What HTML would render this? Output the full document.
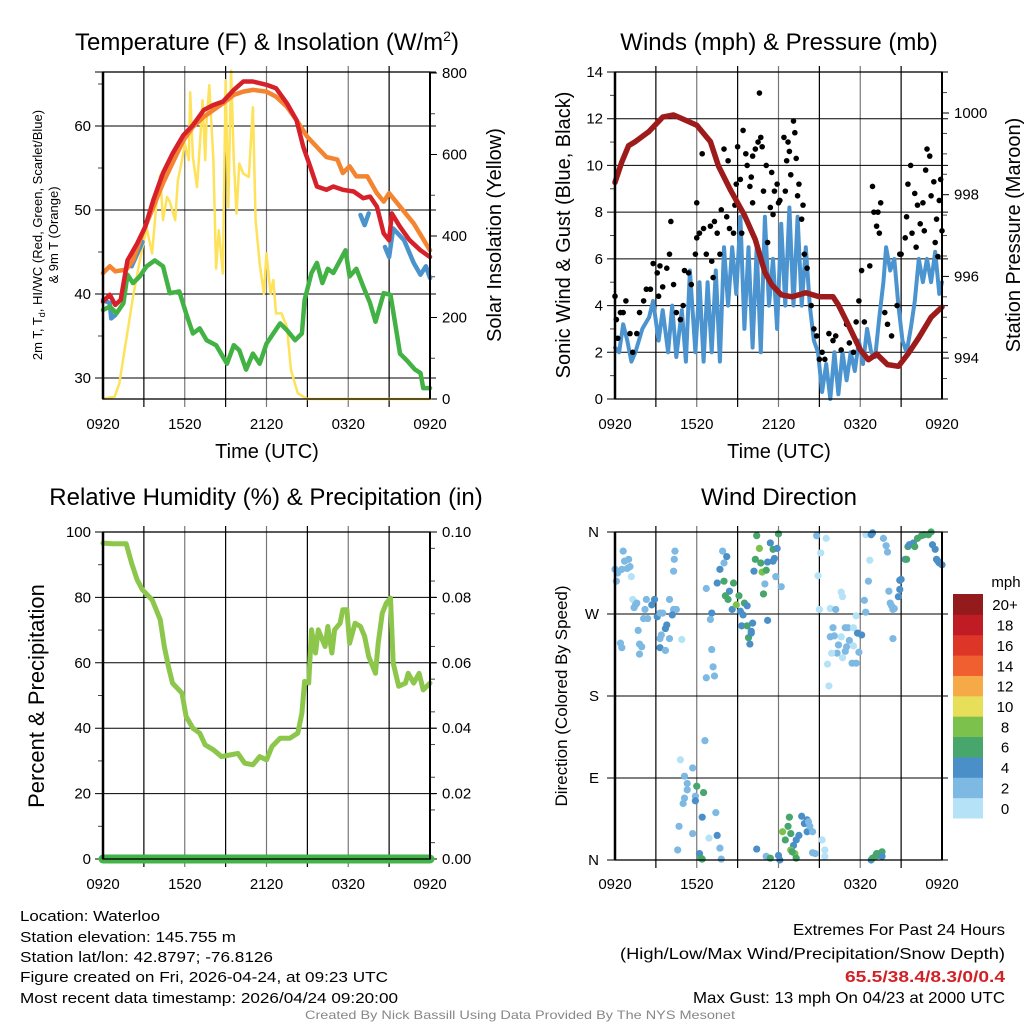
<!DOCTYPE html>
<html><head><meta charset="utf-8"><style>
html,body{margin:0;padding:0;background:#fff;}
svg{display:block;font-family:"Liberation Sans",sans-serif;}
</style></head><body>
<svg id="c" width="1024" height="1024" viewBox="0 0 1024 1024" xmlns="http://www.w3.org/2000/svg">
<rect width="1024" height="1024" fill="#fff"/>
<text x="267" y="50" font-size="24" text-anchor="middle">Temperature (F) &amp; Insolation (W/m<tspan dy="-9" font-size="14">2</tspan><tspan dy="9">)</tspan></text>
<text x="779" y="50" font-size="24" text-anchor="middle">Winds (mph) &amp; Pressure (mb)</text>
<text x="266" y="505" font-size="24" text-anchor="middle">Relative Humidity (%) &amp; Precipitation (in)</text>
<text x="779" y="505" font-size="24" text-anchor="middle">Wind Direction</text>
<text x="267" y="458" font-size="20" text-anchor="middle">Time (UTC)</text>
<text x="779" y="458" font-size="20" text-anchor="middle">Time (UTC)</text>
<text transform="translate(42,235) rotate(-90)" font-size="13" text-anchor="middle">2m T, T<tspan dy="3" font-size="9">d</tspan><tspan dy="-3">, HI/WC (Red, Green, Scarlet/Blue)</tspan></text>
<text transform="translate(58,235) rotate(-90)" font-size="13" text-anchor="middle">&amp; 9m T (Orange)</text>
<text transform="translate(501,235) rotate(-90)" font-size="20" text-anchor="middle">Solar Insolation (Yellow)</text>
<text transform="translate(570,235) rotate(-90)" font-size="20" text-anchor="middle">Sonic Wind &amp; Gust (Blue, Black)</text>
<text transform="translate(1020,235) rotate(-90)" font-size="20" text-anchor="middle">Station Pressure (Maroon)</text>
<text transform="translate(44,696) rotate(-90)" font-size="22" text-anchor="middle">Percent &amp; Precipitation</text>
<text transform="translate(567,696) rotate(-90)" font-size="17" text-anchor="middle">Direction (Colored By Speed)</text>
<g font-size="15">
<text x="20" y="921" textLength="140" lengthAdjust="spacingAndGlyphs">Location: Waterloo</text>
<text x="20" y="942" textLength="216" lengthAdjust="spacingAndGlyphs">Station elevation: 145.755 m</text>
<text x="20" y="962" textLength="253" lengthAdjust="spacingAndGlyphs">Station lat/lon: 42.8797; -76.8126</text>
<text x="20" y="982" textLength="368" lengthAdjust="spacingAndGlyphs">Figure created on Fri, 2026-04-24, at 09:23 UTC</text>
<text x="20" y="1003" textLength="378" lengthAdjust="spacingAndGlyphs">Most recent data timestamp: 2026/04/24 09:20:00</text>
</g>
<g font-size="16">
<text x="793" y="935" textLength="212" lengthAdjust="spacingAndGlyphs">Extremes For Past 24 Hours</text>
<text x="620" y="959" textLength="385" lengthAdjust="spacingAndGlyphs">(High/Low/Max Wind/Precipitation/Snow Depth)</text>
<text x="845" y="982" textLength="160" lengthAdjust="spacingAndGlyphs" fill="#d22027" font-weight="bold">65.5/38.4/8.3/0/0.4</text>
<text x="693" y="1003" textLength="312" lengthAdjust="spacingAndGlyphs">Max Gust: 13 mph On 04/23 at 2000 UTC</text>
</g>
<text x="305" y="1019" font-size="12" fill="#888" textLength="430" lengthAdjust="spacingAndGlyphs">Created By Nick Bassill Using Data Provided By The NYS Mesonet</text>
</svg>
<script>
// ---- data (hours since 0920 UTC) ----
const xTickLabels=["0920","1520","2120","0320","0920"];
const redT=[0,0.5,0.9,1.3,1.8,2.5,3.1,3.7,4.4,5.1,5.9,6.6,7.4,8.1,8.8,9.6,10.3,11.0,12.0,12.7,13.5,14.2,14.7,15.2,15.7,16.4,16.9,17.6,18.4,19.1,19.6,20.1,20.6,21.0,21.2,21.8,22.5,23.3,24];
const redV=[39.1,39.9,38.7,39.3,44,46,48,51.2,54.4,56.7,58.9,60.1,61.9,62.5,62.9,64.3,65.3,65.3,64.9,64.5,62.7,60.7,57.5,55.2,52.8,52.4,52.8,52.4,52.2,51.4,51.6,50.4,47.2,46.4,49.6,48,46.4,45.2,44.4];
const orgT=[0,0.5,0.9,1.7,2.2,2.9,3.7,4.4,5.1,5.9,6.6,7.4,8.1,8.8,9.6,10.3,11.0,12.0,12.7,13.5,14.2,15.0,15.7,16.4,17.2,17.6,18.1,18.6,19.4,20.1,20.6,21.0,21.8,22.8,24];
const orgV=[42.5,43.3,42.7,42.9,44,47.2,50.4,53.2,55.6,58.3,59.9,61.1,61.9,62.7,63.7,64.1,64.3,64.1,63.5,62.3,60.7,58.7,57.5,56.3,56,54.4,55.2,54,54,52,51,52,50.4,48.4,45.2];
const bluT=[0,0.5,0.6,0.9,null,2.1,2.9,null,18.9,19.2,19.5,null,20.7,21.0,21.3,22.1,22.8,23.3,23.7,24];
const bluV=[39.3,38.9,37.1,37.5,null,43.3,46.2,null,49.4,48.2,49.6,null,45.6,44.4,47.8,46.4,43.7,42.3,43.3,41.9];
const grnT=[0,0.5,1.0,1.5,1.8,2.2,2.7,3.2,3.8,4.4,4.9,5.6,6.1,6.6,7.1,7.6,8.3,9.1,9.6,10.0,10.5,11.0,11.5,12.0,12.5,13.0,13.5,14.1,14.6,14.8,15.3,15.7,16.1,16.5,16.9,17.4,17.8,18.1,18.6,19.1,19.6,20.0,20.6,21.1,21.4,21.8,22.3,22.9,23.3,23.5,24];
const grnV=[38.1,38.5,37.7,38.9,42.3,41.3,42.1,43.3,44,43.3,40.1,40.3,37.7,35.3,35.9,34.5,33.9,31.7,33.9,33.3,31,32.9,31.7,34.1,35.3,36.5,35.7,34.5,35.3,39.3,42.5,43.7,41.3,43,42.5,44,45.2,42.1,43,40.9,38.9,36.7,40.1,39.9,36.9,32.9,32.1,31,30.6,28.8,28.8];
const solT=[0,0.86,1.2,1.7,2.2,2.7,3.2,3.6,3.9,4.2,4.4,4.7,4.9,5.3,5.5,5.8,6.0,6.3,6.4,6.6,6.9,7.1,7.3,7.5,7.6,7.8,8.1,8.3,8.5,8.8,9.0,9.2,9.4,9.6,9.8,10.0,10.3,10.7,11.0,11.2,11.5,11.8,12.0,12.3,12.5,12.7,13.1,13.5,13.8,14.3,15,24];
const solV=[0,6,38,145,250,340,420,357,471,549,439,496,484,439,537,586,627,586,753,594,520,618,733,586,684,770,586,320,414,308,782,471,806,586,455,578,553,545,716,439,332,259,357,259,292,210,210,177,71,14,0,0];
const windT=[0,0.3,0.6,0.9,1.2,1.5,2,2.5,2.8,3.2,3.5,3.9,4.2,4.5,4.9,5.2,5.5,5.9,6.2,6.5,6.8,7.1,7.4,7.7,8,8.3,8.6,8.9,9.2,9.5,9.8,10.1,10.4,10.7,11,11.3,11.6,11.9,12.2,12.5,12.8,13.1,13.4,13.7,14,14.3,14.6,14.9,15.2,15.5,15.8,16.1,16.4,16.7,17,17.3,17.6,17.9,18.2,18.5,18.8,19.1,19.4,19.7,19.9,20.2,20.5,20.8,21.1,21.4,21.7,22,22.3,22.6,22.9,23.2,23.5,23.8,24];
const windV=[2.2,2,3.2,2.5,1.6,2,3,3.5,4.2,2.5,3.8,2,4,1.8,3.8,1.6,5.5,2,5,1.6,5,2,5.5,1.6,6.5,4,6.5,4.5,7.8,3,6.5,2.2,6.5,2,7.8,4,6,3,7.5,4,8.2,4,7.8,4,6.5,4,2.5,2,0.3,1.5,0,2,0.2,2,0.8,2,1.2,2.5,1.5,3,2,1.8,3.5,5,6.5,5.5,6,4,2.5,2,3,4.2,6,5,6,5,6.3,4.5,5];
const gustT=[0,0.1,0.2,0.4,0.6,0.8,1.1,1.3,1.6,1.8,2.1,2.3,2.6,2.8,3.1,3.2,3.3,3.5,3.8,4.0,4.1,4.3,4.5,4.8,5.0,5.1,5.4,5.6,5.9,6.0,6.0,6.2,6.4,6.5,6.7,7.0,7.1,7.2,7.3,7.5,7.7,7.8,8.0,8.2,8.3,8.4,8.7,8.8,8.9,9.0,9.2,9.3,9.4,9.6,9.7,9.9,10.0,10.1,10.1,10.3,10.5,10.6,10.7,10.8,10.9,11.1,11.2,11.4,11.5,11.6,11.7,11.9,12.0,12.1,12.4,12.5,12.6,12.7,12.8,12.9,13.1,13.2,13.3,13.4,13.5,13.7,13.8,13.9,14.1,14.4,14.6,14.8,15.0,15.2,15.4,15.7,16.0,16.2,16.6,17.0,17.2,17.5,17.7,17.9,18.1,18.3,18.7,18.9,19.0,19.2,19.3,19.4,19.5,19.8,20.0,20.3,20.7,20.9,21.0,21.3,21.4,21.5,21.7,21.8,22.0,22.1,22.2,22.4,22.6,22.7,22.8,22.9,23.1,23.2,23.4,23.5,23.6,23.7,23.8,23.9,24.0];
const gustV=[4.4,3.4,2.6,3.7,3.7,4.2,2.8,2.0,2.8,3.7,4.2,4.7,4.7,5.8,5.4,4.4,5.7,4.8,5.6,6.2,7.6,4.9,3.7,3.4,4.0,5.5,5.4,4.9,6.2,6.9,8.4,7.1,10.5,7.3,6.2,7.4,5.9,5.2,7.6,7.1,6.2,8.1,10.7,7.8,10.2,7.3,7.1,8.3,9.2,10.8,9.4,7.1,11.5,10.5,10.0,9.1,9.5,8.4,10.4,10.7,11.0,13.1,11.2,10.8,8.9,10.0,6.7,8.2,9.7,7.9,8.9,9.2,8.4,8.5,11.2,8.9,10.2,11.0,10.6,9.6,11.9,11.4,10.3,8.7,9.2,7.7,8.3,6.2,5.6,4.0,3.0,2.7,1.7,2.0,1.7,2.8,2.5,2.7,2.1,3.2,2.4,2.0,3.3,4.2,5.5,3.3,5.7,9.1,8.0,7.4,8.0,7.1,8.4,3.7,3.2,2.7,4.0,6.2,6.2,6.9,7.8,9.2,10.0,7.1,8.8,6.5,8.3,7.5,8.4,7.2,9.8,10.7,10.4,8.7,9.3,6.7,7.7,6.1,8.5,9.4,7.2];
const presT=[0,0.5,1,1.5,2.5,3.5,4.3,5,6,7,7.6,8.5,9.5,10.3,11,11.5,12.2,13,14,15,16,16.4,17,18,18.6,19.2,20,20.8,21.5,22.3,23.2,24];
const presV=[998.3,998.8,999.2,999.3,999.55,999.9,999.95,999.85,999.7,999.3,998.7,998.1,997.5,996.9,996.1,995.8,995.55,995.5,995.6,995.5,995.5,995.3,994.9,994.2,993.96,994.1,993.84,993.8,994.1,994.5,995.0,995.25];
const rhT=[0,0.7,1.7,2.1,2.5,2.9,3.6,4.2,4.5,4.8,5.1,5.8,6.1,6.6,7.1,7.5,8.1,8.7,9.3,9.9,10.4,11.0,11.5,12.0,12.4,13.0,13.7,14.3,14.6,14.8,15.1,15.3,15.6,15.8,16.1,16.3,16.5,16.8,17.0,17.4,17.6,17.9,18.1,18.5,18.9,19.2,19.5,20.0,20.2,20.5,20.8,21.1,21.3,21.7,22.2,22.4,22.8,23.2,23.5,24];
const rhV=[96.6,96.4,96.4,90.5,85.4,82.3,79.3,73.2,65,58.9,53.8,50.7,43.6,40,38.5,34.9,33.4,31.3,31.8,32.3,29.3,28.8,31.3,30.3,34.4,36.9,36.9,38.5,44.6,54.3,53.8,70.1,63,70.1,67,65,71.1,63,70.1,72.1,76.2,76.2,66,72.1,71.1,68.1,61.9,56.8,66,75.2,78.3,79.8,59.9,52.8,53.8,56.8,53.8,56.8,51.7,53.8];
const precipT=[0,24];
const precipV=[0,0];
const dirT=[0,0.1,0.2,0.5,0.6,0.7,1.0,1.1,0.9,1.2,1.3,1.5,1.4,1.6,2.3,2.9,2.7,2.2,2.1,2.4,3.1,3.3,3.5,4.0,4.3,4.5,4.2,3.8,3.7,3.4,3.3,4.0,4.9,0.4,0.5,1.8,1.96,1.8,1.7,3.3,3.7,4.4,4.35,4.3,
4.8,5.7,5.1,5.3,5.3,6.0,5.9,5.9,6.5,5.1,5.0,6.4,7.4,4.7,5.7,6.9,7.5,4.6,7.7,6.2,6.3,6.4,7.8,6.6,
6.7,7.1,7.0,7.1,7.2,7.3,6.7,7.9,8.2,8.0,7.7,7.5,8.0,8.7,8.4,8.1,8.3,9.1,9.5,9.7,8.6,8.9,9.2,9.4,9.3,9.7,10.1,10.0,9.8,9.9,10.0,
10.4,10.6,12.0,11.4,11.6,11.9,10.3,10.7,10.2,10.8,11.1,11.2,11.6,11.7,11.8,11.0,12.2,10.9,11.2,
12.3,12.8,12.7,12.5,12.9,13.1,13.3,13.5,13.7,13.9,14.1,14.1,14.3,14.5,14.2,12.9,13.2,13.3,13.0,14.5,14.7,15.2,15.4,15.4,10.4,11.1,11.4,12.0,12.1,
14.8,15.5,15.1,14.9,15.0,15.8,16.2,16.6,16.7,16.0,16.1,15.8,16.9,17.1,17.5,16.6,16.4,16.3,17.0,17.2,17.5,16.9,15.9,16.7,17.8,18.1,17.9,17.4,17.7,15.6,15.7,17.7,
18.4,18.8,18.9,18.7,18.6,18.3,18.4,19.7,19.9,20.0,20.1,20.2,20.3,20.4,20.5,20.8,20.9,20.9,21.0,20.4,21.3,21.4,21.5,21.6,21.9,22.0,22.2,22.5,22.7,23.0,23.2,23.3,23.5,23.6,23.7,23.8,24.0,
18.8,19.1,19.2,19.3,19.4,19.6,18.9,19.6];
const dirD=[319,306,315,319,339,328,330,322,320,311,286,280,277,282,286,286,280,275,265,265,267,271,271,286,275,275,269,258,254,247,243,243,242,238,233,237,234,226,252,233,230,339,330,317,
110,101,92,84,77,81,70,65,74,68,62,47,52,37,29,24,27,11,13,7,2,1,1,131,
298,271,264,231,212,202,200,339,333,326,319,304,306,304,295,290,286,290,282,279,275,280,273,269,257,257,260,251,244,237,249,
356,342,358,348,341,342,330,326,317,316,318,327,328,331,311,303,300,292,263,
31,47,37,22,29,16,22,27,48,40,44,31,37,31,42,11,7,2,9,8,7,22,11,4,12,4,2,5,0,
356,353,337,312,275,276,275,294,289,255,246,245,255,255,255,245,236,227,234,241,235,229,227,222,249,247,228,216,216,215,191,268,
357,357,359,329,306,285,272,353,345,338,295,282,279,275,276,289,297,307,308,243,330,330,344,346,348,344,353,356,357,357,360,346,341,330,328,326,324,
0,4,7,5,7,9,2,4];
const dirS=[3,3,3,3,3,3,3,3,3,1,1,3,3,3,3,5,5,3,3,3,5,3,3,3,3,3,5,5,5,3,3,3,1,3,3,3,3,3,3,5,3,3,3,3,
1,3,3,3,3,7,3,5,7,3,3,5,3,3,3,1,5,3,3,5,7,7,3,3,
3,5,3,3,3,3,3,3,5,3,5,5,7,7,5,7,7,7,7,5,5,9,5,5,5,7,5,5,7,5,5,
7,9,7,5,7,5,7,7,5,9,7,5,5,5,3,3,3,7,5,
9,7,7,7,7,5,5,5,5,5,5,5,3,3,3,9,9,7,7,3,3,1,1,1,5,3,7,5,5,
3,1,1,1,1,1,3,1,1,3,3,3,3,3,1,1,3,3,3,3,1,3,1,1,5,5,3,3,3,1,1,1,
1,5,5,1,3,3,3,3,3,3,3,3,3,3,3,5,5,5,5,3,5,7,7,5,5,7,7,7,7,7,7,5,5,5,5,5,5,
5,7,7,7,7,7,7,5];
const barLabels=["0","2","4","6","8","10","12","14","16","18","20+"];
const barColors=["#b5e2f7","#7db9e3","#4a8fc8","#46a66b","#7cc14b","#e7df5a","#f6a947","#f05f2f","#de3529","#bf1c25","#941a1c"];

// ---- helpers ----
const NS="http://www.w3.org/2000/svg";
const svg=document.getElementById('c');
function mk(tag,attrs,parent){const e=document.createElementNS(NS,tag);for(const k in attrs)e.setAttribute(k,attrs[k]);(parent||svg).appendChild(e);return e;}
function pathD(ts,vs,fx,fy){let d="",pen=false;for(let i=0;i<ts.length;i++){if(ts[i]===null){pen=false;continue;}d+=(pen?"L":"M")+fx(ts[i]).toFixed(1)+","+fy(vs[i]).toFixed(1);pen=true;}return d;}
function frame(g,L,R,T,B,hY,ticksL,ticksR,minorR,minorL){
  for(let k=1;k<8;k++){const x=L+(R-L)*k/8;const ln=mk('line',{x1:x,x2:x,y1:T-6,y2:B+8,stroke:k%2==0?'#777':'#000','stroke-width':1.2},g);}
  hY.forEach(y=>{const ln=mk('line',{x1:L-8,x2:R+6,y1:y,y2:y,stroke:'#000','stroke-width':1},g);});
  (minorR||[]).forEach(y=>mk('line',{x1:R,x2:R+5,y1:y,y2:y,stroke:'#444','stroke-width':1},g));
  (minorL||[]).forEach(y=>mk('line',{x1:L-5,x2:L,y1:y,y2:y,stroke:'#444','stroke-width':1},g));
}
function xLabels(g,L,R,y){xTickLabels.forEach((s,i)=>{const t=mk('text',{x:L+(R-L)*i/4,y:y,'font-size':15,'text-anchor':'middle'},g);t.textContent=s;});}
function border(g,L,R,T,B){const r=mk('rect',{x:L,y:T,width:R-L,height:B-T,fill:'none',stroke:'#000','stroke-width':1.3},g);mk('line',{x1:L,x2:L,y1:T,y2:B,stroke:'#000','stroke-width':2.5},g);mk('line',{x1:R,x2:R,y1:T,y2:B,stroke:'#000','stroke-width':2},g);}
function line(g,name,ts,vs,fx,fy,col,w){const p=mk('path',{d:pathD(ts,vs,fx,fy),fill:'none',stroke:col,'stroke-width':w,'stroke-linejoin':'round','stroke-linecap':'round'},g);return p;}
function lab(g,x,y,s,anchor){const t=mk('text',{x:x,y:y+5,'font-size':15,'text-anchor':anchor},g);t.textContent=s;}

// ---- Panel 1 ----
(function(){
 const L=103,R=430,T=72,B=399;
 const g=mk('g',{});
 const fx=h=>L+h*(R-L)/24, fy=v=>126+(60-v)*8.4, fr=w=>B-w*(B-73)/800;
 const hY=[30,40,50,60].map(fy).concat([T]);
 const minR=[];for(let w=100;w<800;w+=200)minR.push(fr(w));
 const minL=[];for(let v=35;v<66;v+=10)minL.push(fy(v));
 frame(g,L,R,T,B,hY,null,null,minR,minL);
 [30,40,50,60].forEach(v=>lab(g,L-12,fy(v),String(v),'end'));
 [0,200,400,600,800].forEach(w=>{lab(g,R+12,fr(w),String(w),'start');mk('line',{x1:R,x2:R+7,y1:fr(w),y2:fr(w),stroke:'#000'},g);});
 line(g,'solar-insolation-line',solT,solV,fx,fr,'#fde25a',2.5);
 line(g,'wind-chill-line',bluT,bluV,fx,fy,'#4b93cd',4.5);
 line(g,'dewpoint-line',grnT,grnV,fx,fy,'#43b245',4.5);
 line(g,'temp-9m-line',orgT,orgV,fx,fy,'#f58430',4.5);
 line(g,'temp-2m-line',redT,redV,fx,fy,'#d6202a',4.5);
 border(g,L,R,T,B);
 xLabels(g,L,R,429);
})();

// ---- Panel 2 ----
(function(){
 const L=615,R=942,T=72,B=399;
 const g=mk('g',{});
 const fx=h=>L+h*(R-L)/24, fy=v=>B-v*(B-T)/14, fp=p=>113+(1000-p)*40.85;
 const hY=[0,2,4,6,8,10,12,14].map(fy);
 const minR=[];for(let p=993.5;p<1001;p+=0.5){if(p%2!==0)minR.push(fp(p));}
 const minL=[];for(let v=1;v<14;v+=2)minL.push(fy(v));
 frame(g,L,R,T,B,hY,null,null,minR,minL);
 [0,2,4,6,8,10,12,14].forEach(v=>lab(g,L-12,fy(v),String(v),'end'));
 [994,996,998,1000].forEach(p=>{lab(g,R+12,fp(p),String(p),'start');mk('line',{x1:R,x2:R+7,y1:fp(p),y2:fp(p),stroke:'#000'},g);});
 line(g,'sonic-wind-line',windT,windV,fx,fy,'#4b94d0',4);
 gustT.forEach((t,i)=>{const c=mk('circle',{cx:fx(t),cy:fy(gustV[i]),r:2.8,fill:'#000'},g);});
 line(g,'pressure-line',presT,presV,fx,fp,'#9e1b1b',5.5);
 border(g,L,R,T,B);
 xLabels(g,L,R,429);
})();

// ---- Panel 3 ----
(function(){
 const L=103,R=430,T=532,B=859;
 const g=mk('g',{});
 const fx=h=>L+h*(R-L)/24, fy=v=>B-v*(B-T)/100, fp=p=>B-p*(B-T)/0.1;
 const hY=[0,20,40,60,80,100].map(fy);
 const minR=[];for(let k=1;k<20;k+=2)minR.push(fp(k*0.005));
 const minL=[];for(let v=10;v<100;v+=20)minL.push(fy(v));
 frame(g,L,R,T,B,hY,null,null,minR,minL);
 [0,20,40,60,80,100].forEach(v=>lab(g,L-12,fy(v),String(v),'end'));
 [0,0.02,0.04,0.06,0.08,0.1].forEach(p=>{lab(g,R+12,fp(p),p.toFixed(2),'start');mk('line',{x1:R,x2:R+7,y1:fp(p),y2:fp(p),stroke:'#000'},g);});
 line(g,'relative-humidity-line',rhT,rhV,fx,fy,'#8cc64b',5);
 line(g,'precipitation-line',precipT,precipV,fx,fp,'#43b34a',9);
 border(g,L,R,T,B);
 xLabels(g,L,R,889);
})();

// ---- Panel 4 ----
(function(){
 const L=615,R=942,T=532,B=860;
 const g=mk('g',{});
 const fx=h=>L+h*(R-L)/24, fy=d=>B-d*(B-T)/360;
 const dirs=[0,90,180,270,360], names=["N","E","S","W","N"];
 frame(g,L,R,T,B,dirs.map(fy),null,null,[],[]);
 dirs.forEach((d,i)=>lab(g,L-16,fy(d),names[i],'end'));
 dirT.forEach((t,i)=>{const k=Math.min(10,Math.floor(dirS[i]/2));const c=mk('circle',{cx:fx(t),cy:fy(dirD[i]),r:3.6,fill:barColors[k]},g);});
 border(g,L,R,T,B);
 xLabels(g,L,R,889);
 const cb=mk('g',{});
 const h=(818-594)/11;
 barLabels.forEach((s,i)=>{const y=818-(i+1)*h;const r=mk('rect',{x:953,y:y,width:30,height:h+0.5,fill:barColors[i]},cb);const t=mk('text',{x:1005,y:y+h/2+6,'font-size':15,'text-anchor':'middle'},cb);t.textContent=s;});
 const u=mk('text',{x:1006,y:587,'font-size':15,'text-anchor':'middle'},cb);u.textContent='mph';
})();
</script>
</body></html>
